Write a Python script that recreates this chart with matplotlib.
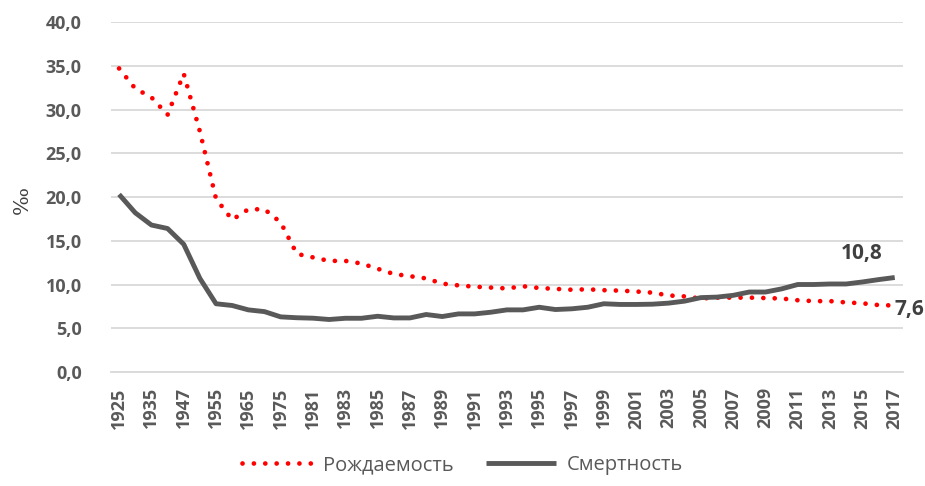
import matplotlib.pyplot as plt

plt.rcParams['font.family'] = ['Open Sans', 'DejaVu Sans']

# categories (only every second one is labelled on the axis)
years = [1925, 1930, 1935, 1940, 1947, 1950, 1955, 1960, 1965, 1970, 1975, 1980] + list(range(1981, 2018))

births = [34.7, 32.4, 31.4, 29.4, 34.1, 27.5, 19.8, 17.4, 18.6, 18.6, 17.1, 13.5,
          13.1, 12.7, 12.7, 12.4, 11.8, 11.2, 10.95, 10.7, 10.1, 9.9, 9.75, 9.65,
          9.55, 9.8, 9.6, 9.5, 9.4, 9.45, 9.35, 9.3, 9.2, 9.07, 8.75, 8.64,
          8.4, 8.5, 8.5, 8.5, 8.45, 8.4, 8.2, 8.1, 8.1, 7.95, 7.85, 7.65, 7.6]

deaths = [20.3, 18.2, 16.8, 16.4, 14.6, 10.7, 7.8, 7.6, 7.1, 6.9, 6.3, 6.2,
          6.15, 6.0, 6.14, 6.14, 6.37, 6.18, 6.18, 6.57, 6.34, 6.64, 6.64, 6.83,
          7.1, 7.1, 7.4, 7.14, 7.22, 7.4, 7.8, 7.72, 7.72, 7.75, 7.87, 8.1,
          8.5, 8.56, 8.76, 9.14, 9.14, 9.5, 10.0, 10.0, 10.06, 10.06, 10.29, 10.56, 10.8]

x = list(range(len(years)))
grey = '#595959'

fig = plt.figure(figsize=(9.25, 4.86), dpi=100)
ax = fig.add_axes([0.12, 0.2346, 0.856, 0.72])

ax.plot(x, births, color='red', lw=3.4, linestyle=(0, (0.01, 2.4)),
        dash_capstyle='round', label='Рождаемость', zorder=3)
ax.plot(x, deaths, color=grey, lw=3.5, solid_capstyle='butt',
        label='Смертность', zorder=3)

ax.set_xlim(-0.5, len(years) - 0.5)
ax.set_ylim(0, 40)
ax.set_yticks(range(0, 41, 5))
ax.set_yticklabels([f'{v},0' for v in range(0, 41, 5)])
ax.set_xticks(x[::2])
ax.set_xticklabels([str(y) for y in years[::2]], rotation=90)

ax.grid(axis='y', color='#d9d9d9', lw=1.3)
ax.set_axisbelow(True)
for s in ['left', 'right', 'top']:
    ax.spines[s].set_visible(False)
ax.spines['bottom'].set_color('#d9d9d9')
ax.spines['bottom'].set_linewidth(1.3)
ax.tick_params(axis='both', length=0, colors=grey, labelsize=13)
ax.tick_params(axis='y', pad=21)
ax.tick_params(axis='x', pad=11)
for lab in ax.get_xticklabels() + ax.get_yticklabels():
    lab.set_fontweight('bold')

fig.text(0.024, 1 - 200 / 486, '‰', rotation=90, ha='center', va='center',
         fontsize=15, color='#404040', family=['DejaVu Serif'])

ax.annotate('10,8', (x[-1], deaths[-1]), xytext=(-24, 17), textcoords='offset points',
            ha='center', va='center', fontsize=15, fontweight='bold', color='#404040')
ax.annotate('7,6', (x[-1], births[-1]), xytext=(0, -3), textcoords='offset points',
            ha='left', va='center', fontsize=15, fontweight='bold', color='#404040',
            annotation_clip=False)

fig.legend(loc='lower center', ncol=2, frameon=False, fontsize=14.5, labelcolor=grey,
           handlelength=3.5, handletextpad=0.5, columnspacing=1.6,
           bbox_to_anchor=(0.5, -0.015))

fig.savefig('out.png', dpi=100)
